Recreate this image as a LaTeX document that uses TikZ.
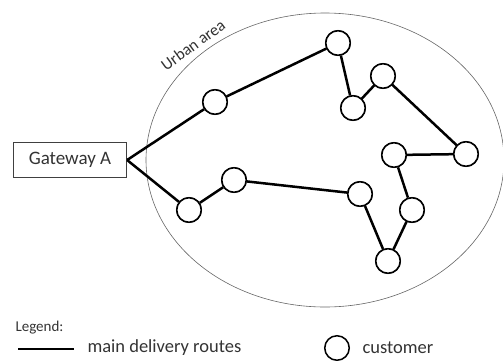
\documentclass[tikz,border=0pt]{standalone}
\usepackage{fontspec}
\setmainfont{Carlito}
\begin{document}
\begin{tikzpicture}[x=1pt,y=-1pt]
 \tikzstyle{client}=[circle,draw,fill=white,line width=1.5pt,minimum size=24.5pt,inner sep=0pt]
 \tikzstyle{route}=[line width=2.5pt]
 \tikzstyle{gate}=[rectangle,draw=black!75,line width=1.2pt,minimum width=113pt,minimum height=35pt,font=\fontsize{19}{22}\selectfont,text=black!80]
 \useasboundingbox (0,0) rectangle (503,360);
 \draw[black!60,line width=0.6pt] (325,160) ellipse (179pt and 147pt);
 \node[rotate=36,font=\fontsize{16.5}{19}\selectfont,text=black!80] (UA) at (193,45) {Urban area};
 \node[gate] (G) at (70,160) {Gateway A};
 \node[client] (C1) at (215,102) {};
 \node[client] (C2) at (338,43) {};
 \node[client] (C3) at (353,108) {};
 \node[client] (C4) at (383,76) {};
 \node[client] (C5) at (466,154) {};
 \node[client] (C6) at (394,155) {};
 \node[client] (C7) at (412,210) {};
 \node[client] (C8) at (388,261) {};
 \node[client] (C9) at (360,194) {};
 \node[client] (C10) at (234,180) {};
 \node[client] (C11) at (189,210) {};
 \draw[route] (G.east)--(C1)--(C2)--(C3)--(C4)--(C5)--(C6)--(C7)--(C8)--(C9)--(C10)--(C11)--(G.east);
 \foreach \n in {1,...,11} \node[client] at (C\n) {};
 % legend
 \node[anchor=west,font=\fontsize{15}{18}\selectfont,text=black!80] (LG) at (12,328) {Legend:};
 \coordinate (L1) at (18,349);
 \coordinate (L2) at (74,349);
 \draw[route] (L1)--(L2);
 \node[anchor=west,font=\fontsize{18.5}{22}\selectfont,text=black!80] (LR) at (84,348) {main delivery routes};
 \node[client] (LC) at (337,348) {};
 \node[anchor=west,font=\fontsize{18.5}{22}\selectfont,text=black!80] (LK) at (359,348) {customer};
\end{tikzpicture}
\end{document}
